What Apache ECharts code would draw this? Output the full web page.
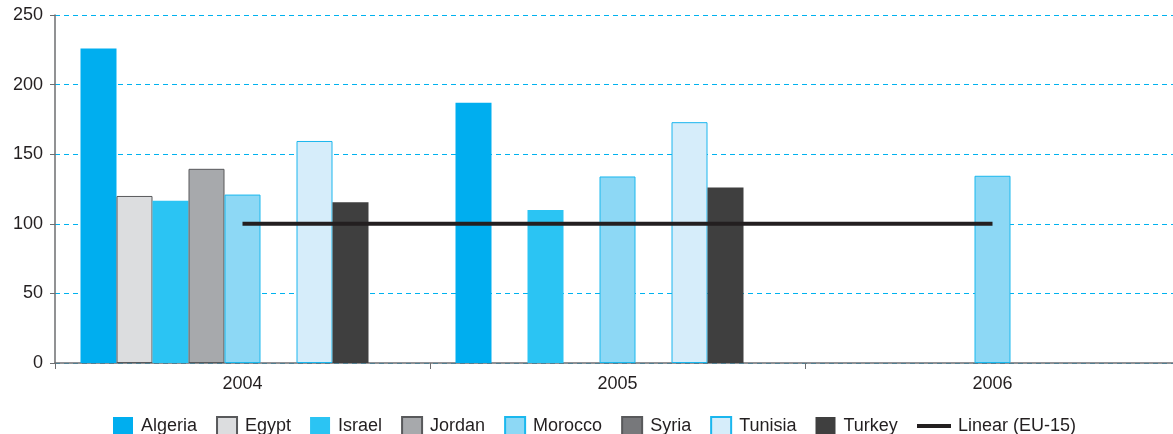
<!DOCTYPE html>
<html>
<head>
<meta charset="utf-8">
<script src="https://cdn.jsdelivr.net/npm/echarts@6/dist/echarts.min.js"></script>
<style>
  html, body { margin: 0; padding: 0; background: #fff; }
  #chart { width: 1173px; height: 434px; }
</style>
</head>
<body>
<div id="chart"></div>
<script>
const years = ['2004', '2005', '2006'];

const algeria = [226, 187, null];
const egypt = [120, null, null];
const israel = [116.5, 110, null];
const jordan = [139.5, null, null];
const morocco = [121, 134, 134.5];
const syria = [null, null, null];
const tunisia = [159.5, 173, null];
const turkey = [115.5, 126, null];
const eu15 = [100, 100, 100];

const font = 'Liberation Sans, Arial, sans-serif';
const edge = '#58595b';

function bar(name, data, color, border) {
  return {
    name,
    type: 'bar',
    data,
    barWidth: 36,
    barGap: '0%',
    itemStyle: {
      color,
      borderColor: border || color,
      borderWidth: border ? 1 : 0,
    },
  };
}

const chart = echarts.init(document.getElementById('chart'));

chart.setOption({
  animation: false,
  textStyle: { fontFamily: font },
  // plot runs a little past the right edge of the picture
  grid: { left: 55, top: 15, width: 1125, height: 348, outerBoundsMode: 'none' },
  legend: [
    {
      data: ['Algeria', 'Egypt', 'Israel', 'Jordan', 'Morocco', 'Syria', 'Tunisia', 'Turkey'],
      left: 108,
      top: 411,
      icon: 'rect',
      itemWidth: 20,
      itemHeight: 19,
      itemGap: 19,
      textStyle: { fontSize: 18, color: '#231f20', fontFamily: font, padding: [0, 0, 0, 3] },
    },
    {
      data: ['Linear (EU-15)'],
      left: 912,
      top: 412,
      icon: 'rect',
      itemWidth: 34,
      itemHeight: 4,
      textStyle: { fontSize: 18, color: '#231f20', fontFamily: font, padding: [0, 0, 0, 2] },
    },
  ],
  xAxis: {
    type: 'category',
    data: years,
    axisLine: { lineStyle: { color: '#6d6e71', width: 1.5 } },
    axisTick: { show: true, length: 6, lineStyle: { color: '#6d6e71' } },
    axisLabel: { fontSize: 18, color: '#231f20', margin: 12 },
  },
  yAxis: {
    type: 'value',
    min: 0,
    max: 250,
    interval: 50,
    axisLine: { show: true, lineStyle: { color: '#6d6e71', width: 1.5 } },
    axisTick: { show: true, length: 5, lineStyle: { color: '#6d6e71' } },
    axisLabel: { fontSize: 18, color: '#231f20', margin: 12 },
    splitLine: { lineStyle: { color: '#00b2ef', type: [5, 4], width: 1 } },
  },
  series: [
    bar('Algeria', algeria, '#00aeef'),
    bar('Egypt', egypt, '#dcdddf', edge),
    bar('Israel', israel, '#2bc4f3'),
    bar('Jordan', jordan, '#a7a9ac', edge),
    bar('Morocco', morocco, '#8dd8f5', '#1ab8ee'),
    bar('Syria', syria, '#77787b', edge),
    bar('Tunisia', tunisia, '#d6edfa', '#1ab6ee'),
    bar('Turkey', turkey, '#3f3f3f'),
    // empty ninth slot, keeps the groups offset as in the original
    bar('', [null, null, null], 'transparent'),
    {
      name: 'Linear (EU-15)',
      type: 'line',
      data: eu15,
      symbol: 'none',
      z: 5,
      lineStyle: { color: '#231f20', width: 4 },
      itemStyle: { color: '#231f20' },
    },
  ],
});
</script>
</body>
</html>
